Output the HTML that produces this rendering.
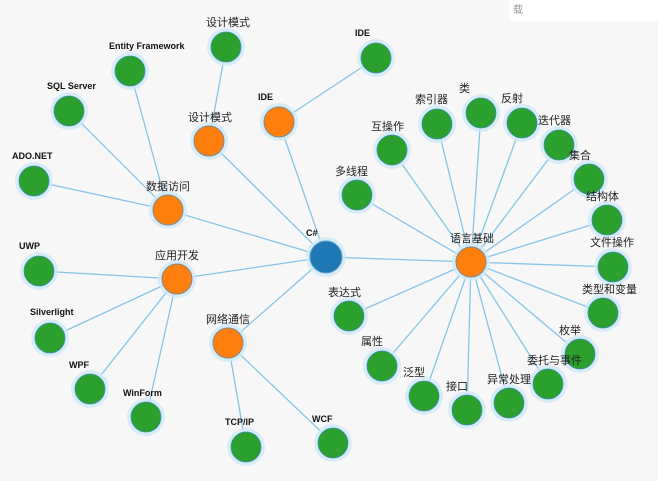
<!DOCTYPE html>
<html><head><meta charset="utf-8"><style>
html,body{margin:0;padding:0;background:#f7f7f7;}
svg{display:block}
.en{font-family:"Liberation Sans",sans-serif;font-weight:bold;font-size:9px;fill:#111;}
.cn{font-family:"Liberation Sans","Noto Sans CJK SC",sans-serif;font-size:11px;fill:#222;}
line{stroke:#86c5e8;stroke-width:1.3}
.halo{fill:#cfe9f8;opacity:.8}
.g{fill:#2ca02c;stroke:#3a8fb5;stroke-width:.8}
.o{fill:#ff7f0e;stroke:#7a8a90;stroke-width:1}
.b{fill:#1f77b4;stroke:#5aa0cc;stroke-width:1}
</style></head><body>
<svg width="658" height="481" xmlns="http://www.w3.org/2000/svg">
<rect x="510" y="0" width="148" height="21" fill="#fff"/>
<text x="513" y="13" class="cn" style="font-size:10px;fill:#999">载</text>
<g>
<line x1="326" y1="257" x2="471" y2="262"/>
<line x1="326" y1="257" x2="168" y2="210"/>
<line x1="326" y1="257" x2="177" y2="279"/>
<line x1="326" y1="257" x2="228" y2="343"/>
<line x1="326" y1="257" x2="209" y2="141"/>
<line x1="326" y1="257" x2="279" y2="122"/>
<line x1="209" y1="141" x2="226" y2="47"/>
<line x1="279" y1="122" x2="376" y2="58"/>
<line x1="168" y1="210" x2="130" y2="71"/>
<line x1="168" y1="210" x2="69" y2="111"/>
<line x1="168" y1="210" x2="34" y2="181"/>
<line x1="177" y1="279" x2="39" y2="271"/>
<line x1="177" y1="279" x2="50" y2="338"/>
<line x1="177" y1="279" x2="90" y2="389"/>
<line x1="177" y1="279" x2="146" y2="417"/>
<line x1="228" y1="343" x2="246" y2="447"/>
<line x1="228" y1="343" x2="333" y2="443"/>
<line x1="471" y1="262" x2="357" y2="195"/>
<line x1="471" y1="262" x2="392" y2="150"/>
<line x1="471" y1="262" x2="437" y2="124"/>
<line x1="471" y1="262" x2="481" y2="113"/>
<line x1="471" y1="262" x2="522" y2="123"/>
<line x1="471" y1="262" x2="559" y2="145"/>
<line x1="471" y1="262" x2="589" y2="179"/>
<line x1="471" y1="262" x2="607" y2="220"/>
<line x1="471" y1="262" x2="613" y2="267"/>
<line x1="471" y1="262" x2="603" y2="313"/>
<line x1="471" y1="262" x2="580" y2="354"/>
<line x1="471" y1="262" x2="548" y2="384"/>
<line x1="471" y1="262" x2="509" y2="403"/>
<line x1="471" y1="262" x2="467" y2="410"/>
<line x1="471" y1="262" x2="424" y2="396"/>
<line x1="471" y1="262" x2="382" y2="366"/>
<line x1="471" y1="262" x2="349" y2="316"/>
</g>
<g id="nodes">
<!-- green nodes -->
<g>
<circle cx="226" cy="47" r="19" class="halo"/><circle cx="226" cy="47" r="15" class="g"/>
<circle cx="130" cy="71" r="19" class="halo"/><circle cx="130" cy="71" r="15" class="g"/>
<circle cx="69" cy="111" r="19" class="halo"/><circle cx="69" cy="111" r="15" class="g"/>
<circle cx="34" cy="181" r="19" class="halo"/><circle cx="34" cy="181" r="15" class="g"/>
<circle cx="376" cy="58" r="19" class="halo"/><circle cx="376" cy="58" r="15" class="g"/>
<circle cx="39" cy="271" r="19" class="halo"/><circle cx="39" cy="271" r="15" class="g"/>
<circle cx="50" cy="338" r="19" class="halo"/><circle cx="50" cy="338" r="15" class="g"/>
<circle cx="90" cy="389" r="19" class="halo"/><circle cx="90" cy="389" r="15" class="g"/>
<circle cx="146" cy="417" r="19" class="halo"/><circle cx="146" cy="417" r="15" class="g"/>
<circle cx="246" cy="447" r="19" class="halo"/><circle cx="246" cy="447" r="15" class="g"/>
<circle cx="333" cy="443" r="19" class="halo"/><circle cx="333" cy="443" r="15" class="g"/>
<circle cx="357" cy="195" r="19" class="halo"/><circle cx="357" cy="195" r="15" class="g"/>
<circle cx="392" cy="150" r="19" class="halo"/><circle cx="392" cy="150" r="15" class="g"/>
<circle cx="437" cy="124" r="19" class="halo"/><circle cx="437" cy="124" r="15" class="g"/>
<circle cx="481" cy="113" r="19" class="halo"/><circle cx="481" cy="113" r="15" class="g"/>
<circle cx="522" cy="123" r="19" class="halo"/><circle cx="522" cy="123" r="15" class="g"/>
<circle cx="559" cy="145" r="19" class="halo"/><circle cx="559" cy="145" r="15" class="g"/>
<circle cx="589" cy="179" r="19" class="halo"/><circle cx="589" cy="179" r="15" class="g"/>
<circle cx="607" cy="220" r="19" class="halo"/><circle cx="607" cy="220" r="15" class="g"/>
<circle cx="613" cy="267" r="19" class="halo"/><circle cx="613" cy="267" r="15" class="g"/>
<circle cx="603" cy="313" r="19" class="halo"/><circle cx="603" cy="313" r="15" class="g"/>
<circle cx="580" cy="354" r="19" class="halo"/><circle cx="580" cy="354" r="15" class="g"/>
<circle cx="548" cy="384" r="19" class="halo"/><circle cx="548" cy="384" r="15" class="g"/>
<circle cx="509" cy="403" r="19" class="halo"/><circle cx="509" cy="403" r="15" class="g"/>
<circle cx="467" cy="410" r="19" class="halo"/><circle cx="467" cy="410" r="15" class="g"/>
<circle cx="424" cy="396" r="19" class="halo"/><circle cx="424" cy="396" r="15" class="g"/>
<circle cx="382" cy="366" r="19" class="halo"/><circle cx="382" cy="366" r="15" class="g"/>
<circle cx="349" cy="316" r="19" class="halo"/><circle cx="349" cy="316" r="15" class="g"/>
</g>
<circle cx="168" cy="210" r="19" class="halo"/><circle cx="168" cy="210" r="15" class="o"/>
<circle cx="177" cy="279" r="19" class="halo"/><circle cx="177" cy="279" r="15" class="o"/>
<circle cx="228" cy="343" r="19" class="halo"/><circle cx="228" cy="343" r="15" class="o"/>
<circle cx="209" cy="141" r="19" class="halo"/><circle cx="209" cy="141" r="15" class="o"/>
<circle cx="279" cy="122" r="19" class="halo"/><circle cx="279" cy="122" r="15" class="o"/>
<circle cx="471" cy="262" r="19" class="halo"/><circle cx="471" cy="262" r="15" class="o"/>
<circle cx="326" cy="257" r="20" class="halo"/><circle cx="326" cy="257" r="16" class="b"/>
</g>
<g class="en">
<text x="306" y="236">C#</text>
<text x="258" y="100">IDE</text>
<text x="355" y="36">IDE</text>
<text x="109" y="49">Entity Framework</text>
<text x="47" y="89">SQL Server</text>
<text x="12" y="159">ADO.NET</text>
<text x="19" y="249">UWP</text>
<text x="30" y="315">Silverlight</text>
<text x="69" y="368">WPF</text>
<text x="123" y="396">WinForm</text>
<text x="225" y="425">TCP/IP</text>
<text x="312" y="422">WCF</text>
</g>
<g class="cn">
<text x="206" y="26">设计模式</text>
<text x="188" y="121">设计模式</text>
<text x="146" y="190">数据访问</text>
<text x="155" y="259">应用开发</text>
<text x="206" y="323">网络通信</text>
<text x="450" y="242">语言基础</text>
<text x="335" y="175">多线程</text>
<text x="371" y="130">互操作</text>
<text x="415" y="103">索引器</text>
<text x="459" y="92">类</text>
<text x="501" y="102">反射</text>
<text x="538" y="124">迭代器</text>
<text x="569" y="159">集合</text>
<text x="586" y="200">结构体</text>
<text x="590" y="246">文件操作</text>
<text x="582" y="293">类型和变量</text>
<text x="559" y="334">枚举</text>
<text x="527" y="364">委托与事件</text>
<text x="487" y="383">异常处理</text>
<text x="446" y="390">接口</text>
<text x="403" y="376">泛型</text>
<text x="361" y="345">属性</text>
<text x="328" y="296">表达式</text>
</g>
</svg>
</body></html>
